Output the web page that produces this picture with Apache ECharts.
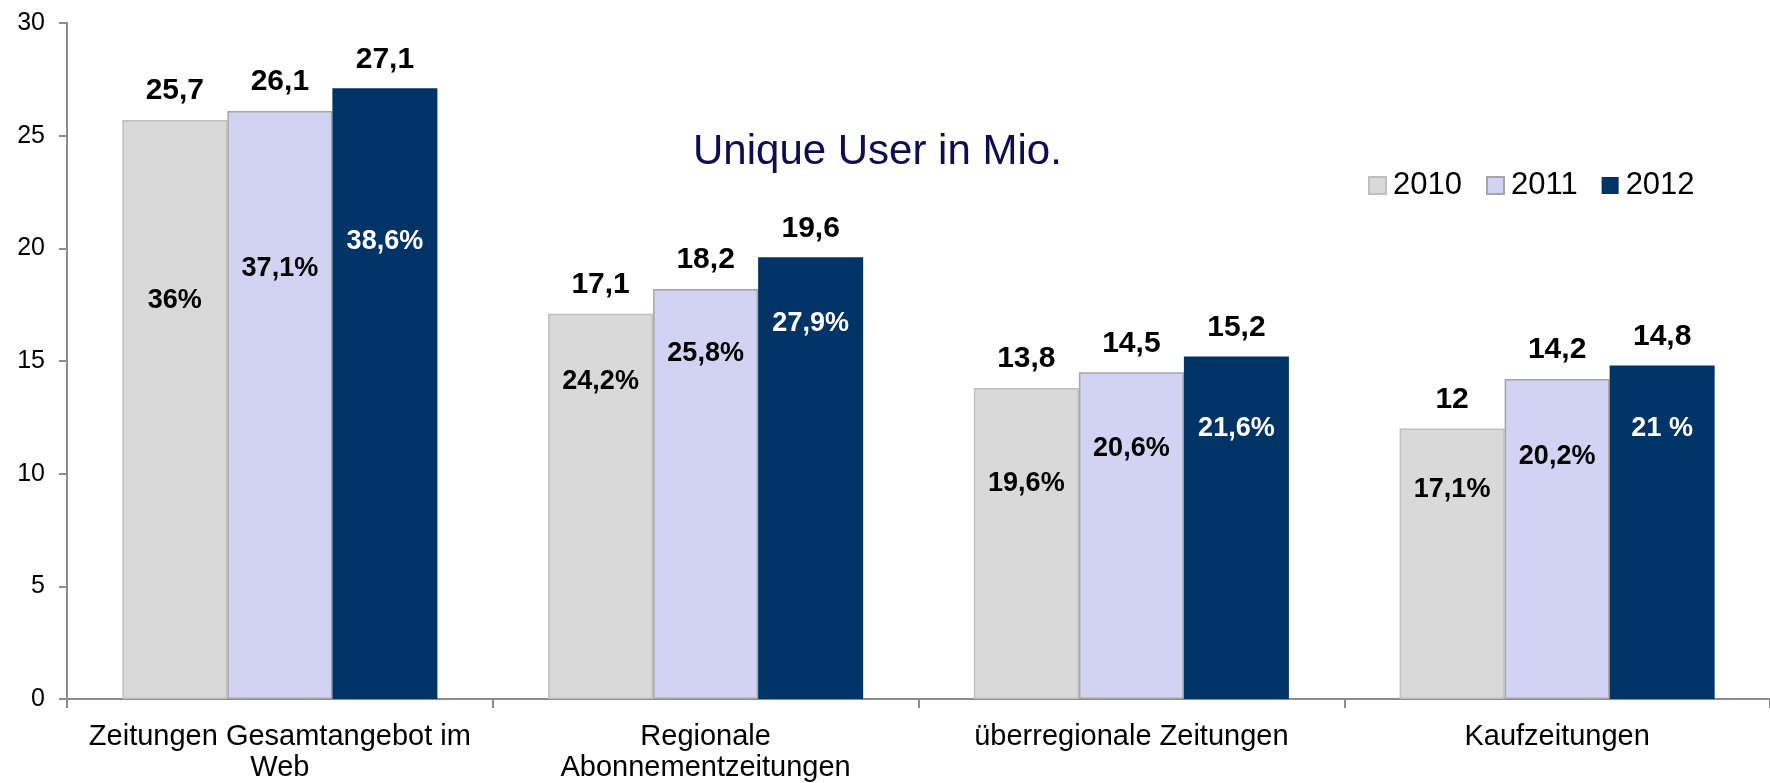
<!DOCTYPE html>
<html>
<head>
<meta charset="utf-8">
<script src="https://cdn.jsdelivr.net/npm/echarts@6/dist/echarts.min.js"></script>
<style>
  html, body { margin: 0; padding: 0; background: #fff; }
  #chart { width: 1770px; height: 783px; }
</style>
</head>
<body>
<div id="chart"></div>
<script>
const categories = ['Zeitungen Gesamtangebot im\nWeb', 'Regionale\nAbonnementzeitungen', 'überregionale Zeitungen', 'Kaufzeitungen']
const years = ['2010', '2011', '2012']
const users2010 = [25.7, 17.1, 13.8, 12]
const users2011 = [26.1, 18.2, 14.5, 14.2]
const users2012 = [27.1, 19.6, 15.2, 14.8]
const share2010 = ['36%', '24,2%', '19,6%', '17,1%']
const share2011 = ['37,1%', '25,8%', '20,6%', '20,2%']
const share2012 = ['38,6%', '27,9%', '21,6%', '21 %']
// level (Mio.) at which the share label sits inside each bar
const shareLevel2010 = [17.7, 14.1, 9.55, 9.3]
const shareLevel2011 = [19.1, 15.35, 11.1, 10.75]
const shareLevel2012 = [20.3, 16.65, 12.0, 12.0]
const yMin = 0
const yMax = 30
const yStep = 5

const FONT = '"Liberation Sans", Arial, sans-serif'
const colors = ['#d9d9d9', '#d2d2f2', '#003366']
const borders = ['#bfbfbf', '#a6a6a6', '#003366']
const users = [users2010, users2011, users2012]
const shares = [share2010, share2011, share2012]
const levels = [shareLevel2010, shareLevel2011, shareLevel2012]
const shareColors = ['#000', '#000', '#fff']

const chart = echarts.init(document.getElementById('chart'))

const valueSeries = years.map((y, i) => ({
  name: y,
  type: 'bar',
  xAxisIndex: 0,
  barGap: 0,
  barCategoryGap: '26%',
  data: users[i],
  itemStyle: {
    color: colors[i],
    borderColor: borders[i],
    borderWidth: i === 2 ? 0 : 1.5
  },
  label: {
    show: true,
    position: 'top',
    distance: 14,
    fontFamily: FONT,
    fontSize: 30,
    fontWeight: 'bold',
    color: '#000',
    formatter: p => String(p.value).replace('.', ',')
  }
}))

// invisible bars on a twin axis, only to carry the share labels
const shareSeries = years.map((y, i) => ({
  name: 'share' + y,
  type: 'bar',
  xAxisIndex: 1,
  barGap: 0,
  barCategoryGap: '26%',
  silent: true,
  z: 5,
  data: levels[i],
  itemStyle: { color: 'transparent' },
  label: {
    show: true,
    position: 'insideTop',
    distance: 0,
    verticalAlign: 'middle',
    fontFamily: FONT,
    fontSize: 27,
    fontWeight: 'bold',
    color: shareColors[i],
    formatter: p => shares[i][p.dataIndex]
  }
}))

chart.setOption({
  animation: false,
  textStyle: { fontFamily: FONT },
  title: {
    text: 'Unique User in Mio.',
    left: 688,
    top: 126,
    textStyle: {
      fontFamily: FONT,
      fontSize: 42,
      fontWeight: 'normal',
      color: '#0d0d50'
    }
  },
  legend: {
    data: years,
    left: 1363,
    top: 165,
    itemWidth: 17,
    itemHeight: 17,
    itemGap: 24,
    icon: 'rect',
    textStyle: { fontFamily: FONT, fontSize: 31, color: '#000', padding: [0, 0, 0, 2] }
  },
  grid: {
    left: 67,
    right: 0,
    top: 23,
    bottom: 84,
    containLabel: false
  },
  xAxis: [
    {
      type: 'category',
      data: categories,
      axisLine: { lineStyle: { color: '#8c8c8c', width: 2 } },
      axisTick: { show: true, length: 9, lineStyle: { color: '#8c8c8c', width: 2 } },
      axisLabel: {
        interval: 0,
        margin: 22,
        fontFamily: FONT,
        fontSize: 29,
        lineHeight: 31,
        color: '#000'
      }
    },
    {
      type: 'category',
      data: categories,
      show: false
    }
  ],
  yAxis: {
    type: 'value',
    min: yMin,
    max: yMax,
    interval: yStep,
    splitLine: { show: false },
    axisLine: { show: true, lineStyle: { color: '#8c8c8c', width: 2 } },
    axisTick: { show: true, length: 8, lineStyle: { color: '#8c8c8c', width: 2 } },
    axisLabel: {
      margin: 22,
      fontFamily: FONT,
      fontSize: 25,
      color: '#000'
    }
  },
  series: [...valueSeries, ...shareSeries]
})
</script>
</body>
</html>
